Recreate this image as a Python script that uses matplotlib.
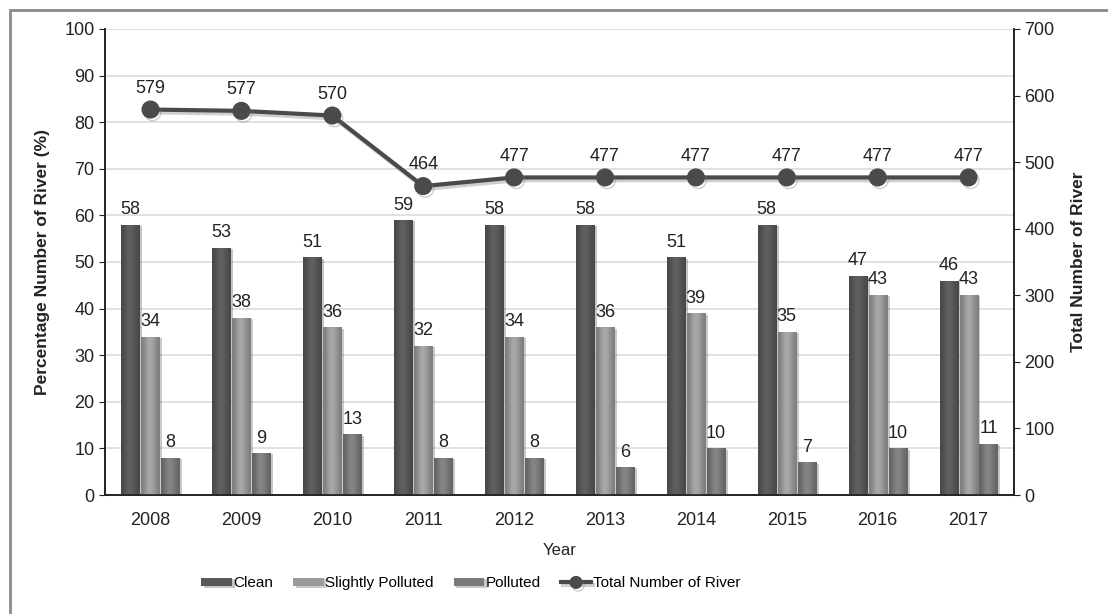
import matplotlib
matplotlib.use("Agg")
import matplotlib.pyplot as plt
import matplotlib.patheffects as pe
from matplotlib.patches import Rectangle
import numpy as np

plt.rcParams['font.family'] = ['Liberation Sans', 'DejaVu Sans']

years = ['2008', '2009', '2010', '2011', '2012', '2013', '2014', '2015', '2016', '2017']
clean = [58, 53, 51, 59, 58, 58, 51, 58, 47, 46]
slightly = [34, 38, 36, 32, 34, 36, 39, 35, 43, 43]
polluted = [8, 9, 13, 8, 8, 6, 10, 7, 10, 11]
total = [579, 577, 570, 464, 477, 477, 477, 477, 477, 477]

series = [
    ('Clean', clean, '#585858', -0.22),
    ('Slightly Polluted', slightly, '#9a9a9a', 0.0),
    ('Polluted', polluted, '#7a7a7a', 0.22),
]

fig = plt.figure(figsize=(11.08, 6.14), dpi=100)
ax = fig.add_axes([0.0948, 0.1938, 0.8204, 0.759])
ax2 = ax.twinx()

x = np.arange(len(years))
w = 0.2

# cylinder-like shading
grad = np.array([[0.82, 0.97, 1.12, 1.06, 0.95, 0.82]])


def shade(hexcol):
    c = np.array(matplotlib.colors.to_rgb(hexcol))
    return np.clip(grad[..., None] * c[None, None, :], 0, 1)


handles = []
for name, vals, col, off in series:
    bars = ax.bar(x + off, vals, w, color=col, label=name, zorder=3,
                  path_effects=[pe.SimplePatchShadow(offset=(2, -1), alpha=0.25), pe.Normal()])
    img = shade(col)
    for b in bars:
        x0, y0 = b.get_x(), b.get_y()
        im = ax.imshow(img, extent=[x0, x0 + b.get_width(), y0, y0 + b.get_height()],
                       aspect='auto', zorder=4, interpolation='bicubic')
        im.set_clip_path(b)
    for xi, v in zip(x + off, vals):
        ax.text(xi, v + 1.4, str(v), ha='center', va='bottom', fontsize=13,
                color='#222222', zorder=6)
    handles.append(bars)

ax.set_xlim(-0.5, len(years) - 0.5)
ax.set_ylim(0, 100)
ax.set_yticks(range(0, 101, 10))
ax.set_xticks(x)
ax.set_xticklabels(years)
ax.grid(axis='y', color='#dcdcdc', linewidth=1.2, zorder=0)
ax.set_axisbelow(True)
ax.tick_params(axis='y', direction='out', length=4, labelsize=13, colors='#222222')
ax.tick_params(axis='x', length=0, labelsize=13, colors='#222222', pad=12)
ax.set_xlabel('Year', fontsize=12, color='#222222', labelpad=10)
ax.set_ylabel('Percentage Number of River (%)', fontsize=12.5, fontweight='bold',
              color='#222222', labelpad=10)

line, = ax2.plot(x, total, color='#4a4a4a', linewidth=3, marker='o', markersize=12,
                 label='Total Number of River', zorder=7,
                 path_effects=[pe.SimpleLineShadow(offset=(1.5, -2), alpha=0.35, shadow_color='#777777'),
                               pe.Normal()])
for xi, v in zip(x, total):
    ax2.text(xi, v + 19, str(v), ha='center', va='bottom', fontsize=13, color='#222222')
ax2.set_ylim(0, 700)
ax2.set_yticks(range(0, 701, 100))
ax2.tick_params(axis='y', direction='out', length=4, labelsize=13, colors='#222222')
ax2.set_ylabel('Total Number of River', fontsize=12.5, fontweight='bold', color='#222222',
               labelpad=12)

for a in (ax, ax2):
    a.spines['top'].set_visible(False)
    for s in ('left', 'right', 'bottom'):
        a.spines[s].set_color('#222222')
        a.spines[s].set_linewidth(1.2)

# outer chart frame
fig.patches.append(Rectangle((0.009, -0.05), 1.1, 1.034, transform=fig.transFigure,
                             fill=False, edgecolor='#8a8a8a', linewidth=2))

leg = fig.legend(handles + [line], [s[0] for s in series] + ['Total Number of River'],
                 loc='center', bbox_to_anchor=(0.425, 0.05), ncol=4, frameon=False,
                 fontsize=11, handlelength=2.0, handleheight=0.5, handletextpad=0.1,
                 columnspacing=1.3, markerscale=0.7)

fig.savefig('out.png', dpi=100)
